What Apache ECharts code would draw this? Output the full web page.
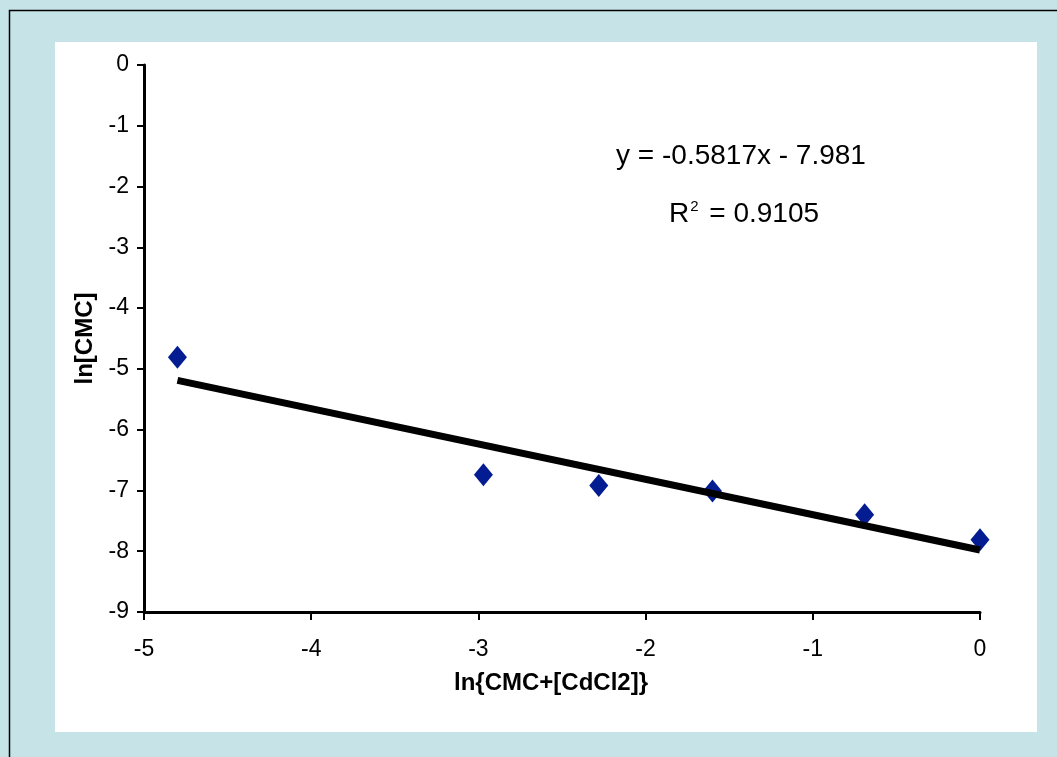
<!DOCTYPE html>
<html>
<head>
<meta charset="utf-8">
<script src="https://cdn.jsdelivr.net/npm/echarts@6/dist/echarts.min.js"></script>
<style>html,body{margin:0;padding:0;background:#fff}#c{width:1057px;height:757px}</style>
</head>
<body>
<div id="c"></div>
<script>
// Data
const xValues = [-4.80, -2.97, -2.28, -1.60, -0.69, 0.00];
const yValues = [-4.81, -6.74, -6.92, -7.01, -7.40, -7.81];
const trendX = [-4.80, 0.00];
const trendY = [-5.19, -7.98];
const xTicks = [-5, -4, -3, -2, -1, 0];
const yTicks = [0, -1, -2, -3, -4, -5, -6, -7, -8, -9];
const xTitle = 'ln{CMC+[CdCl2]}';
const yTitle = 'ln[CMC]';
const eqLine = 'y = -0.5817x - 7.981';
const r2Value = '0.9105';

const points = xValues.map((x, i) => [x, yValues[i]]);
const trend = trendX.map((x, i) => [x, trendY[i]]);
const font = '"Liberation Sans", Arial, sans-serif';

const chart = echarts.init(document.getElementById('c'), null, {renderer: 'canvas'});
chart.setOption({
  backgroundColor: '#c6e4e8',
  animation: false,
  graphic: [
    {type: 'rect', z: -10, shape: {x: 9.5, y: 10.5, width: 1200, height: 900},
     style: {fill: '#c6e4e8', stroke: '#000', lineWidth: 1.5}},
    {type: 'rect', z: -9, shape: {x: 55, y: 42, width: 982, height: 690},
     style: {fill: '#ffffff'}},
    {type: 'text', z: 10,
     style: {text: eqLine, x: 741, y: 156, fill: '#000', fontSize: 28, fontFamily: font,
             align: 'center', verticalAlign: 'middle'}},
    {type: 'text', z: 10,
     style: {x: 744, y: 214, align: 'center', verticalAlign: 'middle',
             text: '{a|R}{s|2}{a| = ' + r2Value + '}',
             rich: {a: {fontSize: 28, fontFamily: font, color: '#000'},
                    s: {fontSize: 15, fontFamily: font, color: '#000', padding: [0, 3, 14, 1]}}}}
  ],
  grid: {left: 144, right: 77, top: 65, bottom: 145, containLabel: false},
  xAxis: {
    type: 'value', min: xTicks[0], max: xTicks[xTicks.length - 1], interval: 1,
    name: xTitle, nameLocation: 'middle', nameGap: 59,
    nameTextStyle: {fontFamily: font, fontSize: 24, fontWeight: 'bold', color: '#000', padding: [0, 22, 0, 0]},
    axisLine: {show: true, onZero: false, lineStyle: {color: '#000', width: 3}},
    axisTick: {show: true, inside: false, length: 8, lineStyle: {color: '#000', width: 2}},
    axisLabel: {fontFamily: font, fontSize: 23, color: '#000', margin: 26},
    splitLine: {show: false}
  },
  yAxis: {
    type: 'value', min: yTicks[yTicks.length - 1], max: yTicks[0], interval: 1,
    name: yTitle, nameLocation: 'middle', nameGap: 47, nameRotate: 90,
    nameTextStyle: {fontFamily: font, fontSize: 24, fontWeight: 'bold', color: '#000'},
    axisLine: {show: true, onZero: false, lineStyle: {color: '#000', width: 3}},
    axisTick: {show: true, inside: false, length: 7, lineStyle: {color: '#000', width: 2}},
    axisLabel: {fontFamily: font, fontSize: 23, color: '#000', margin: 15},
    splitLine: {show: false}
  },
  series: [
    {type: 'scatter', data: points, symbol: 'diamond', symbolSize: [19, 23], z: 2,
     itemStyle: {color: '#031c91', opacity: 1}},
    {type: 'line', data: trend, symbol: 'none', z: 3,
     lineStyle: {color: '#000', width: 7, cap: 'butt'}}
  ]
});
</script>
</body>
</html>
